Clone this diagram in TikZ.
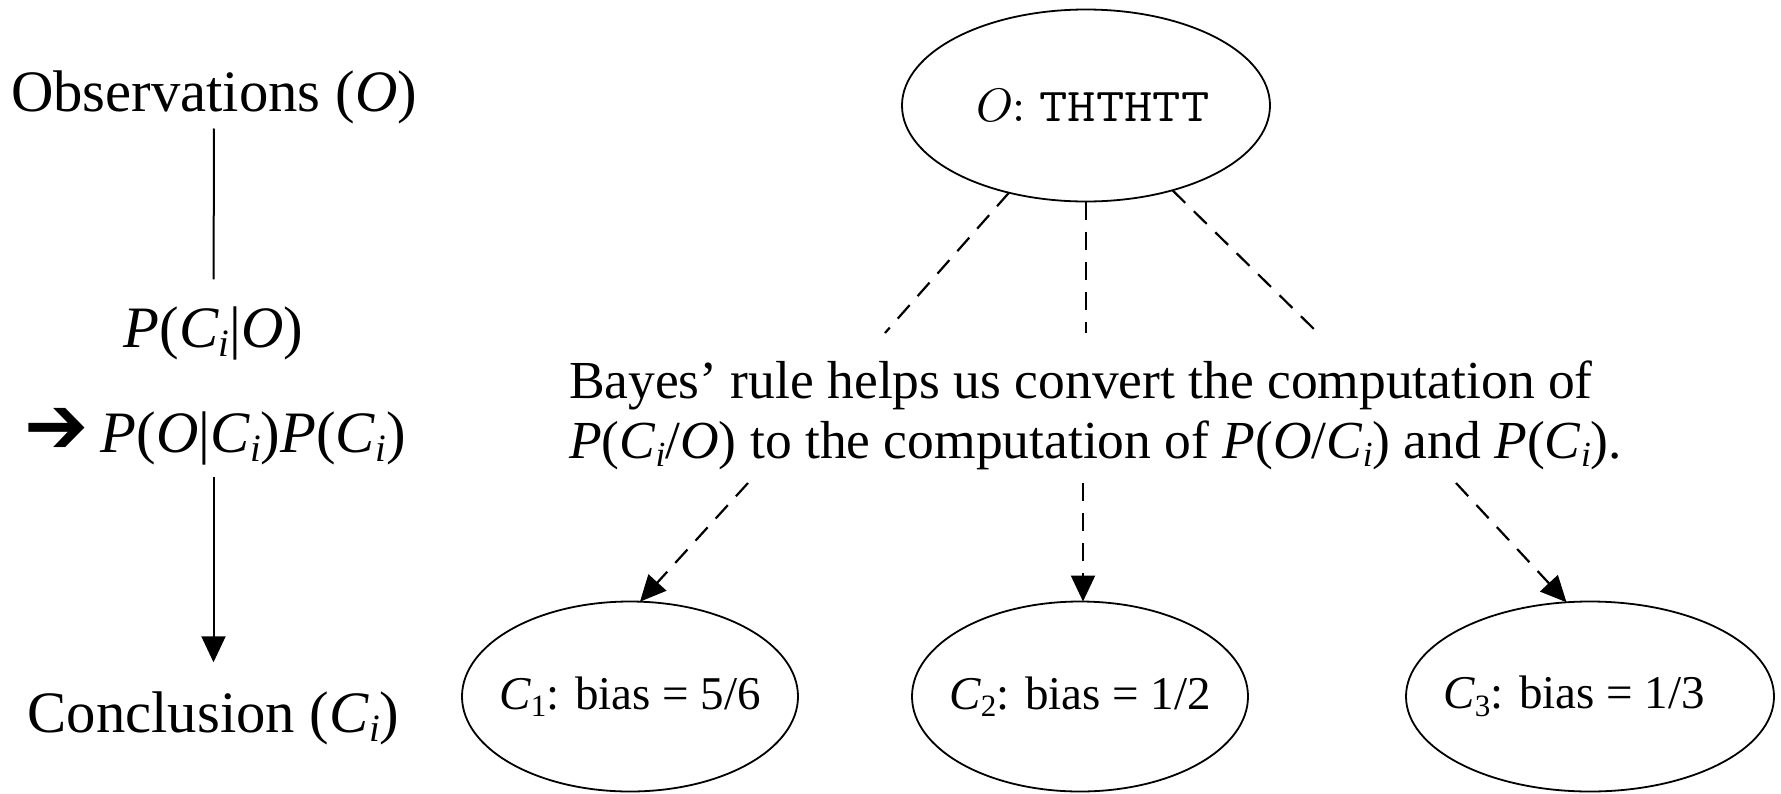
\documentclass[tikz,border=0pt]{standalone}
\usepackage{fontspec}
\usepackage{graphicx}
\usepackage{pifont}
\setmainfont{Liberation Serif}
\newfontfamily\lmmath{Latin Modern Math}
\usetikzlibrary{arrows.meta,shapes.geometric}
% subscript at two thirds of the current size, slightly lowered
\makeatletter
\newcommand{\sbs}[1]{\raisebox{-0.16em}{\fontsize{\dimexpr0.66\dimexpr\f@size pt\relax\relax}{1pt}\selectfont #1}}
\makeatother
\begin{document}
\begin{tikzpicture}[x=1pt,y=-1pt,
  every node/.style={inner sep=0pt, outer sep=0pt},
  conn/.style={line width=2pt},
  dashconn/.style={line width=2.2pt, dash pattern=on 18pt off 12pt},
  tip/.style={-{Triangle[length=26pt,width=24pt]}},
  oval/.style={draw, ellipse, line width=1.8pt, inner ysep=0pt, inner xsep=-40pt},
  lefttext/.style={font=\fontsize{58.7}{66}\selectfont},
  ruletext/.style={font=\fontsize{53.5}{60}\selectfont},
  ovaltext/.style={font=\fontsize{47}{52}\selectfont}]

\fill[white] (0,0) rectangle (1781,793);
\useasboundingbox (0,0) rectangle (1781,793);

% left column: observations -> conclusion
\node[lefttext, anchor=base] (obs) at (214,111) {Observations (\textit{O})};
\node[lefttext, anchor=base] (pco) at (213.5,347) {\textit{P}(\textit{C}\sbs{\textit{i}}|\textit{O})};
\node[lefttext, anchor=base west] (poc) at (26,452) {\raisebox{1pt}{\fontsize{68}{68}\selectfont\ding{212}}\hspace{14pt}\textit{P}(\textit{O}|\textit{C}\sbs{\textit{i}})\textit{P}(\textit{C}\sbs{\textit{i}})};
\node[lefttext, anchor=base] (concl) at (213.5,732) {Conclusion (\textit{C}\sbs{\textit{i}})};

\draw[conn, shorten <=5pt, shorten >=27pt] (obs.south) -- (pco.north);
\draw[conn, tip, shorten <=12pt, shorten >=29pt] (poc.south -| concl.north) -- (concl.north);

% observation node
\node[oval, minimum width=368pt, minimum height=192pt] (obsv) at (1086,105.5)
  {\hspace*{14pt}{\lmmath\fontsize{47}{50}\selectfont 𝑂:}\hspace{14pt}{\fontsize{47}{50}\selectfont\scalebox{1.17}[1]{\texttt{THTHTT}}}};

% explanation text
\node[ruletext, anchor=base west] (rulea) at (569,398) {Bayes’ rule helps us convert the computation of};
\node[ruletext, anchor=base west] (ruleb) at (569,458) {\textit{P}(\textit{C}\sbs{\textit{i}}/\textit{O}) to the computation of \textit{P}(\textit{O}/\textit{C}\sbs{\textit{i}}) and \textit{P}(\textit{C}\sbs{\textit{i}}).};

% hypotheses
\node[oval, ovaltext, minimum width=336pt, minimum height=190pt] (c1) at (630,696.5) {\textit{C}\sbs{1}: bias = 5/6};
\node[oval, ovaltext, minimum width=336pt, minimum height=190pt] (c2) at (1080,696.5) {\textit{C}\sbs{2}: bias = 1/2};
\node[oval, ovaltext, minimum width=368pt, minimum height=190pt] (c3) at (1590,696.5) {\textit{C}\sbs{3}: bias = 1/3\hspace*{32pt}};

% free ends of the dashed connectors around the text
\coordinate (ua) at (885,333);
\coordinate (ub) at (1086,333);
\coordinate (uc) at (1318,333);
\coordinate (la) at (748,483);
\coordinate (lb) at (1083,483);
\coordinate (lc) at (1456,483);

\draw[dashconn] (obsv) -- (ua);
\draw[dashconn] (obsv) -- (ub);
\draw[dashconn] (obsv) -- (uc);

\draw[dashconn, tip] (la) -- (c1.84.6);
\draw[dashconn, tip] (lb) -- (lb |- c2.north);
\draw[dashconn, tip] (lc) -- (c3.104.6);
\end{tikzpicture}
\end{document}
